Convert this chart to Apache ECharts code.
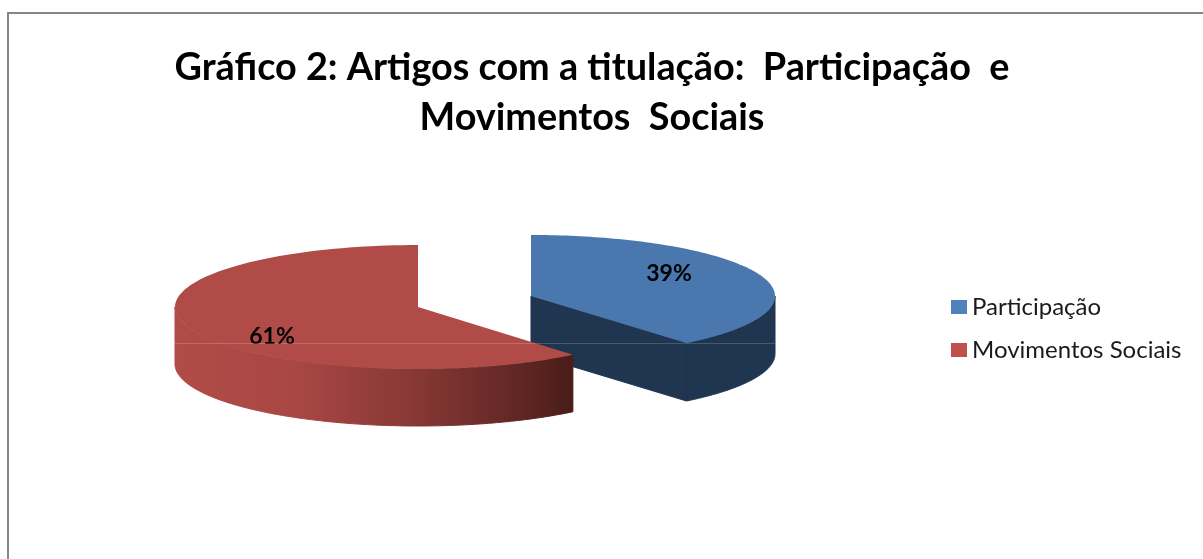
<!DOCTYPE html>
<html>
<head>
<meta charset="utf-8">
<title>Gráfico 2</title>
<style>
  html, body { margin: 0; padding: 0; background: #fff; }
  #chart { width: 1203px; height: 559px; }
</style>
<script src="https://cdn.jsdelivr.net/npm/echarts@6/dist/echarts.min.js"></script>
</head>
<body>
<div id="chart"></div>
<script>
const categories = ['Participação', 'Movimentos Sociais']
const values = [39, 61]

const total = values[0] + values[1]
const font = 'Lato, "Open Sans", sans-serif'

// o pie 3D não existe no echarts, cada fatia é desenhada a partir do valor
const sliceStyle = [
  { cx: 531, cy: 296, rx: 244, ry: 61, depth: 58, top: '#4a78ae', side: '#1f3550', labelX: 669, labelY: 274 },
  {
    cx: 418, cy: 307, rx: 243, ry: 62, depth: 57, top: '#b14b47', labelX: 272, labelY: 337,
    side: new echarts.graphic.LinearGradient(0, 0, 1, 0, [
      { offset: 0, color: '#b14b47' },
      { offset: 0.3, color: '#a94744' },
      { offset: 0.6, color: '#873835' },
      { offset: 0.85, color: '#622825' },
      { offset: 1, color: '#4a1c18' }
    ])
  }
]

function rimPoint(s, t, dy) {
  return [s.cx + s.rx * Math.sin(t), s.cy - s.ry * Math.cos(t) + dy]
}

function arc(s, from, to, dy) {
  const pts = []
  const steps = 120
  for (let i = 0; i <= steps; i++) {
    pts.push(rimPoint(s, from + (to - from) * i / steps, dy))
  }
  return pts
}

function renderSlice(params, api) {
  const idx = params.seriesIndex
  const s = sliceStyle[idx]
  const start = idx === 0 ? 0 : values[0] / total * Math.PI * 2
  const end = start + api.value(0) / total * Math.PI * 2
  const children = []

  // parede externa: só a parte de frente da elipse aparece
  const wallFrom = Math.max(start, Math.PI / 2)
  const wallTo = Math.min(end, Math.PI * 1.5)
  children.push({
    type: 'polygon',
    shape: { points: arc(s, wallFrom, wallTo, 0).concat(arc(s, wallTo, wallFrom, s.depth)) },
    style: { fill: s.side, stroke: s.side, lineWidth: 1 }
  })

  // parede interna da fatia azul, virada para a frente
  if (idx === 0) {
    const tip = rimPoint(s, end, 0)
    children.push({
      type: 'polygon',
      shape: {
        points: [[s.cx, s.cy], tip, [tip[0], tip[1] + s.depth], [s.cx, s.cy + s.depth]]
      },
      style: { fill: s.side, stroke: s.side, lineWidth: 1 }
    })
  }

  children.push({
    type: 'polygon',
    shape: { points: [[s.cx, s.cy]].concat(arc(s, start, end, 0)) },
    style: { fill: s.top }
  })

  children.push({
    type: 'text',
    z2: 20,
    style: {
      text: api.value(0) + '%',
      x: s.labelX,
      y: s.labelY,
      align: 'center',
      verticalAlign: 'middle',
      font: 'bold 23px ' + font,
      fill: '#000'
    }
  })

  return { type: 'group', children: children }
}

const chart = echarts.init(document.getElementById('chart'))
chart.setOption({
  animation: false,
  backgroundColor: '#fff',
  title: {
    text: 'Gráfico 2: Artigos com a titulação:  Participação  e\nMovimentos  Sociais',
    left: 587,
    top: 38,
    textAlign: 'center',
    textStyle: { fontFamily: font, fontWeight: 'bold', fontSize: 37.8, lineHeight: 50, color: '#000' }
  },
  legend: {
    orient: 'vertical',
    left: 946,
    top: 290,
    icon: 'rect',
    itemWidth: 16,
    itemHeight: 14,
    itemGap: 19,
    selectedMode: false,
    textStyle: { fontFamily: font, fontSize: 24, color: '#1a1a1a' },
    data: [
      { name: categories[0], itemStyle: { color: '#4f81bd' } },
      { name: categories[1], itemStyle: { color: '#c0504d' } }
    ]
  },
  series: categories.map((name, i) => ({
    type: 'custom',
    name: name,
    coordinateSystem: 'none',
    silent: true,
    itemStyle: { color: sliceStyle[i].top },
    renderItem: renderSlice,
    data: [[values[i]]]
  })),
  graphic: [
    // moldura: só lados superior e esquerdo aparecem no recorte
    { type: 'rect', shape: { x: 7, y: 12, width: 1196, height: 2 }, style: { fill: '#868686' } },
    { type: 'rect', shape: { x: 7, y: 12, width: 2, height: 547 }, style: { fill: '#868686' } },
    // linha clara que atravessa o pie
    { type: 'rect', z: 5, shape: { x: 175, y: 343, width: 600, height: 1 }, style: { fill: 'rgba(255,255,255,0.18)' } }
  ]
})
</script>
</body>
</html>
